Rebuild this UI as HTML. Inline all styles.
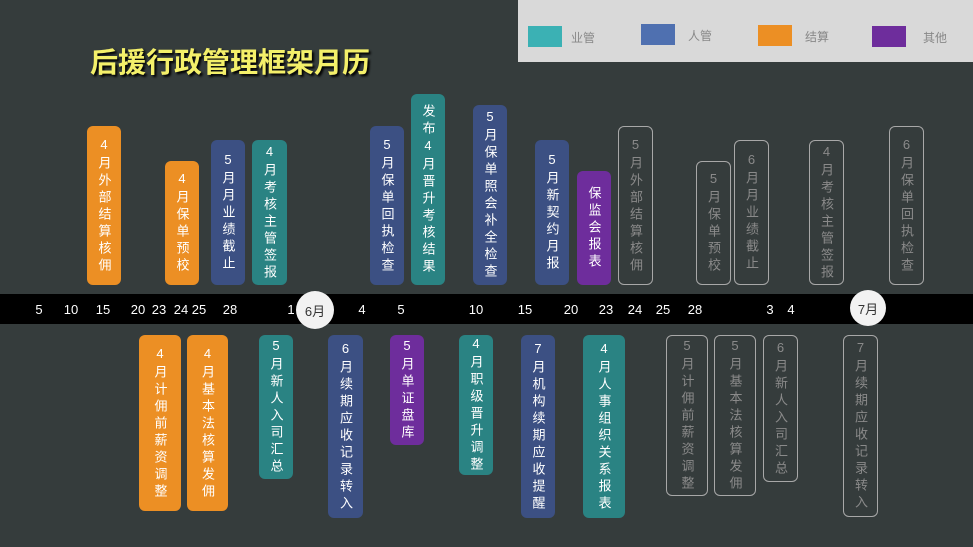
<!DOCTYPE html>
<html><head><meta charset="utf-8"><style>
body{margin:0;width:973px;height:547px;background:#353c3c;position:relative;overflow:hidden;font-family:"Liberation Sans","Noto Sans CJK SC",sans-serif}
.b{position:absolute;border-radius:6px;display:flex;align-items:center;justify-content:center;color:#fff;font-size:13px}
.b span{writing-mode:vertical-rl;text-orientation:upright;letter-spacing:4px;line-height:1}
.o{background:#ec8f24}.u{background:#3c5083}.t{background:#2a8383}.p{background:#6e2d9c}
.n{border:1.5px solid #a8a8a8;color:#8a8a8a;box-sizing:border-box}
.d{position:absolute;top:302px;color:#fff;font-size:13px;transform:translateX(-50%)}
.c{position:absolute;background:#f2f2f2;border-radius:50%;color:#333;font-size:13px;display:flex;align-items:center;justify-content:center}
.sw{position:absolute;width:34px;height:21px}
.lg{position:absolute;font-size:12px;color:#888}
</style></head><body>
<div style="position:absolute;left:518px;top:0;width:455px;height:62px;background:#d9d9d9"></div>
<div class="sw" style="left:528px;top:26px;background:#3bb1b4"></div><div class="lg" style="left:571px;top:29px">业管</div>
<div class="sw" style="left:641px;top:24px;background:#4f70b0"></div><div class="lg" style="left:688px;top:27px">人管</div>
<div class="sw" style="left:758px;top:25px;background:#ec8f24"></div><div class="lg" style="left:805px;top:28px">结算</div>
<div class="sw" style="left:872px;top:26px;background:#6e2d9c"></div><div class="lg" style="left:923px;top:29px">其他</div>
<div style="position:absolute;left:90px;top:41px;font-size:28px;font-weight:bold;color:#f4f06a;text-shadow:2px 2px 2px #000">后援行政管理框架月历</div>

<div class="b o" style="left:87px;top:126px;width:34px;height:159px"><span>4月外部结算核佣</span></div>
<div class="b o" style="left:165px;top:161px;width:34px;height:124px"><span>4月保单预校</span></div>
<div class="b u" style="left:211px;top:140px;width:34px;height:145px"><span>5月月业绩截止</span></div>
<div class="b t" style="left:252px;top:140px;width:35px;height:145px"><span>4月考核主管签报</span></div>
<div class="b u" style="left:370px;top:126px;width:34px;height:159px"><span>5月保单回执检查</span></div>
<div class="b t" style="left:411px;top:94px;width:34px;height:191px"><span>发布4月晋升考核结果</span></div>
<div class="b u" style="left:473px;top:105px;width:34px;height:180px"><span>5月保单照会补全检查</span></div>
<div class="b u" style="left:535px;top:140px;width:34px;height:145px"><span>5月新契约月报</span></div>
<div class="b p" style="left:577px;top:171px;width:34px;height:114px"><span>保监会报表</span></div>
<div class="b n" style="left:618px;top:126px;width:35px;height:159px"><span>5月外部结算核佣</span></div>
<div class="b n" style="left:696px;top:161px;width:35px;height:124px"><span>5月保单预校</span></div>
<div class="b n" style="left:734px;top:140px;width:35px;height:145px"><span>6月月业绩截止</span></div>
<div class="b n" style="left:809px;top:140px;width:35px;height:145px"><span>4月考核主管签报</span></div>
<div class="b n" style="left:889px;top:126px;width:35px;height:159px"><span>6月保单回执检查</span></div>

<div style="position:absolute;left:0;top:294px;width:973px;height:30px;background:#000"></div>
<div class="d" style="left:39px">5</div><div class="d" style="left:71px">10</div><div class="d" style="left:103px">15</div>
<div class="d" style="left:138px">20</div><div class="d" style="left:159px">23</div><div class="d" style="left:181px">24</div>
<div class="d" style="left:199px">25</div><div class="d" style="left:230px">28</div><div class="d" style="left:291px">1</div>
<div class="d" style="left:362px">4</div><div class="d" style="left:401px">5</div><div class="d" style="left:476px">10</div>
<div class="d" style="left:525px">15</div><div class="d" style="left:571px">20</div><div class="d" style="left:606px">23</div>
<div class="d" style="left:635px">24</div><div class="d" style="left:663px">25</div><div class="d" style="left:695px">28</div>
<div class="d" style="left:770px">3</div><div class="d" style="left:791px">4</div>
<div class="c" style="left:296px;top:291px;width:38px;height:38px">6月</div>
<div class="c" style="left:850px;top:290px;width:36px;height:36px">7月</div>

<div class="b o" style="left:139px;top:335px;width:42px;height:176px"><span>4月计佣前薪资调整</span></div>
<div class="b o" style="left:187px;top:335px;width:41px;height:176px"><span>4月基本法核算发佣</span></div>
<div class="b t" style="left:259px;top:335px;width:34px;height:144px"><span>5月新人入司汇总</span></div>
<div class="b u" style="left:328px;top:335px;width:35px;height:183px"><span>6月续期应收记录转入</span></div>
<div class="b p" style="left:390px;top:335px;width:34px;height:110px"><span>5月单证盘库</span></div>
<div class="b t" style="left:459px;top:335px;width:34px;height:140px"><span>4月职级晋升调整</span></div>
<div class="b u" style="left:521px;top:335px;width:34px;height:183px"><span>7月机构续期应收提醒</span></div>
<div class="b t" style="left:583px;top:335px;width:42px;height:183px"><span>4月人事组织关系报表</span></div>
<div class="b n" style="left:666px;top:335px;width:42px;height:161px"><span>5月计佣前薪资调整</span></div>
<div class="b n" style="left:714px;top:335px;width:42px;height:161px"><span>5月基本法核算发佣</span></div>
<div class="b n" style="left:763px;top:335px;width:35px;height:147px"><span>6月新人入司汇总</span></div>
<div class="b n" style="left:843px;top:335px;width:35px;height:182px"><span>7月续期应收记录转入</span></div>
</body></html>
